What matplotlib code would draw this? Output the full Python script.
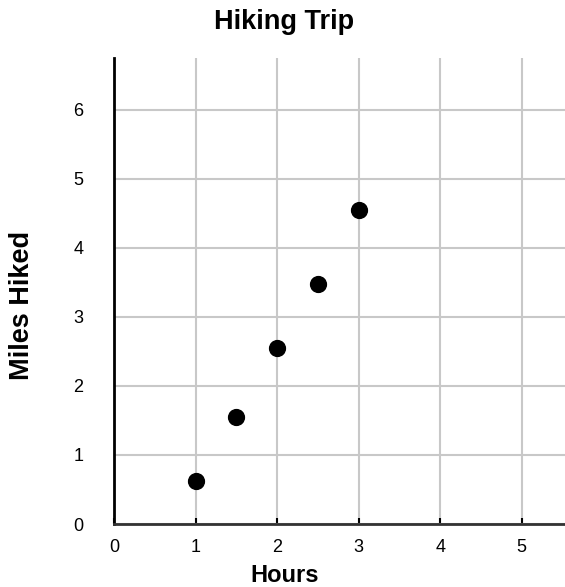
import matplotlib
matplotlib.use("Agg")
import matplotlib.pyplot as plt

plt.rcParams['font.family'] = ['Liberation Sans', 'DejaVu Sans']

hours = [1, 1.5, 2, 2.5, 3]
miles = [0.62, 1.55, 2.55, 3.48, 4.55]
x_ticks = [0, 1, 2, 3, 4, 5]
y_ticks = [0, 1, 2, 3, 4, 5, 6]

fig = plt.figure(figsize=(5.65, 5.87), dpi=100)
ax = fig.add_axes([0.2018, 0.1073, 0.7982, 0.794])

ax.scatter(hours, miles, s=130, color='black', zorder=3)

ax.set_xlim(0, 5.53)
ax.set_ylim(0, 6.75)
ax.set_xticks(x_ticks)
ax.set_yticks(y_ticks)
ax.grid(True, color='#c8c8c8', linewidth=1.5)
ax.set_axisbelow(True)

for s in ['top', 'right']:
    ax.spines[s].set_visible(False)
ax.spines['left'].set_linewidth(2)
ax.spines['bottom'].set_linewidth(2)
ax.spines['bottom'].set_color('#333333')
ax.tick_params(axis='x', direction='in', length=4, width=1.5, pad=11, labelsize=13)
ax.tick_params(axis='y', length=0, pad=22, labelsize=13)

# titles centred on the figure, like the original
fig.text(0.503, 0.9625, 'Hiking Trip', fontsize=19.5, fontweight='bold',
         ha='center', va='center')
fig.text(0.503, 0.0204, 'Hours', fontsize=17, fontweight='bold',
         ha='center', va='center')
fig.text(0.039, 0.479, 'Miles Hiked', fontsize=19.5, fontweight='bold',
         ha='center', va='center', rotation=90)

fig.savefig('out.png', dpi=100)
